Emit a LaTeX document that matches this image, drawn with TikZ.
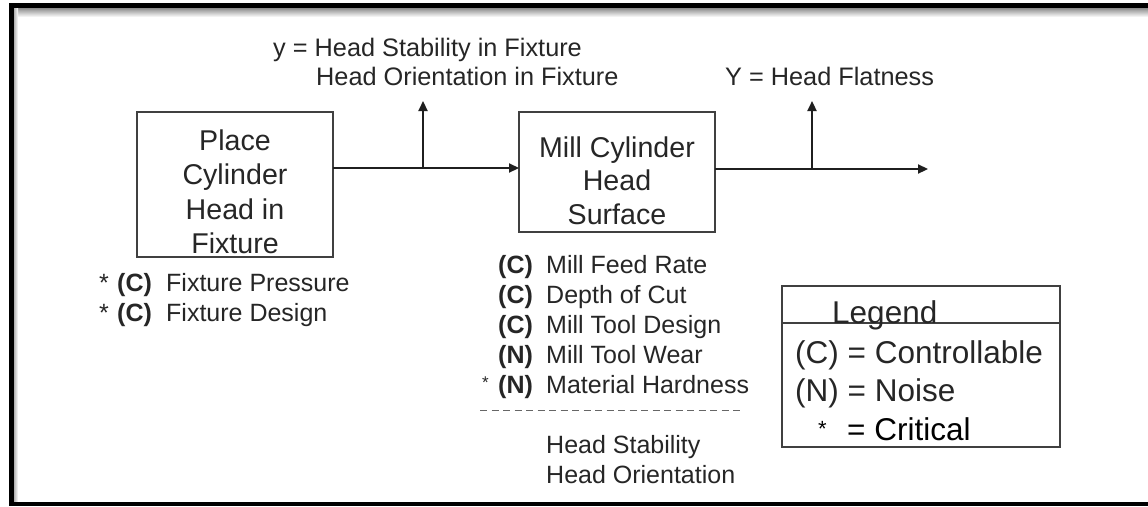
\documentclass[tikz,border=0pt]{standalone}
\usepackage{fontspec}
\setmainfont{Liberation Sans}
\usetikzlibrary{arrows.meta}
\begin{document}
\begin{tikzpicture}[x=1pt,y=-1pt,
  txt/.style={inner sep=0pt, anchor=base west, text=black!85},
  boxtxt/.style={inner sep=0pt, anchor=base, text=black!85, font=\fontsize{28.6}{34}\selectfont},
  lbl/.style={txt, font=\fontsize{25.3}{30}\selectfont},
  lst/.style={txt, font=\fontsize{25}{30}\selectfont},
  lstb/.style={txt, font=\fontsize{25}{30}\selectfont\bfseries},
  leg/.style={txt, font=\fontsize{31.5}{38}\selectfont},
  proc/.style={draw=black!75, line width=1.3pt, inner sep=0pt, outer sep=0pt},
  flow/.style={line width=2.2pt, draw=black!88, -{Triangle[length=10pt,width=9pt]}},
  sepline/.style={draw=black!75, line width=1.3pt},
  dashline/.style={draw=black!60, line width=1pt, dash pattern=on 7pt off 4.5pt},
]
\useasboundingbox (0,0) rectangle (1148,506);
\fill[white] (0,0) rectangle (1148,506);
% frame with shadow
\shade[top color=black!45, bottom color=white] (14,8) rectangle (1148,17);
\shade[left color=black!30, right color=white] (14,8) rectangle (18,502);
\fill[black] (9,3) rectangle (1148,8);
\fill[black] (9,3) rectangle (14,506);
\fill[black] (9,502) rectangle (1148,506);

% process boxes
\node[proc, minimum width=196pt, minimum height=145pt] (b1) at (235,184.5) {};
\node[boxtxt] (b1a) at (235,150) {Place};
\node[boxtxt] (b1b) at (235,184.5) {Cylinder};
\node[boxtxt] (b1c) at (235,219) {Head in};
\node[boxtxt] (b1d) at (235,253.5) {Fixture};

\node[proc, minimum width=196pt, minimum height=120pt] (b2) at (617,172) {};
\node[boxtxt] (b2a) at (617,157) {Mill Cylinder};
\node[boxtxt] (b2b) at (617,190.5) {Head};
\node[boxtxt] (b2c) at (617,224) {Surface};

% connectors
\coordinate (j1) at (423,168);
\coordinate (t1) at (423,101);
\coordinate (j2) at (812,169);
\coordinate (t2) at (812,101);
\coordinate (e2) at (928,169);
\draw[flow] (b1.east |- j1) -- (b2.west |- j1);
\draw[flow] (j1) -- (t1);
\draw[flow] (b2.east |- j2) -- (e2);
\draw[flow] (j2) -- (t2);

% output labels
\node[lbl] (y1) at (273,56) {y = Head Stability in Fixture};
\node[lbl] (y2) at (316,85) {Head Orientation in Fixture};
\node[lbl] (Y1) at (725,85) {Y = Head Flatness};

% left inputs
\node[lst] (ls1) at (99,291) {*};
\node[lstb] (lc1) at (117,291) {(C)};
\node[lst] (lt1) at (166,291) {Fixture Pressure};
\node[lst] (ls2) at (99,321) {*};
\node[lstb] (lc2) at (117,321) {(C)};
\node[lst] (lt2) at (166,321) {Fixture Design};

% right inputs
\node[lstb] (rc1) at (498,273) {(C)};
\node[lst] (rt1) at (546,273) {Mill Feed Rate};
\node[lstb] (rc2) at (498,303) {(C)};
\node[lst] (rt2) at (546,303) {Depth of Cut};
\node[lstb] (rc3) at (498,333) {(C)};
\node[lst] (rt3) at (546,333) {Mill Tool Design};
\node[lstb] (rc4) at (498,363) {(N)};
\node[lst] (rt4) at (546,363) {Mill Tool Wear};
\node[lst, font=\fontsize{17}{20}\selectfont] (rs5) at (482,388) {*};
\node[lstb] (rc5) at (498,393) {(N)};
\node[lst] (rt5) at (546,393) {Material Hardness};
\coordinate (d1) at (480,410);
\coordinate (d2) at (743,410);
\draw[dashline] (d1) -- (d2);
\node[lst] (rh1) at (546,453) {Head Stability};
\node[lst] (rh2) at (546,483) {Head Orientation};

% legend
\node[proc, minimum width=278pt, minimum height=161pt] (leg) at (921,366.5) {};
\coordinate (sep) at (921,323);
\draw[sepline] (leg.west |- sep) -- (leg.east |- sep);
\node[leg] (lg0) at (832,323) {Legend};
\node[leg] (lg1) at (795,363) {(C) = Controllable};
\node[leg] (lg2) at (795,401) {(N) = Noise};
\node[leg, text=black, font=\fontsize{22}{26}\selectfont] (lg3s) at (818,436) {*};
\node[leg, text=black] (lg3) at (847,440) {= Critical};
\end{tikzpicture}
\end{document}
